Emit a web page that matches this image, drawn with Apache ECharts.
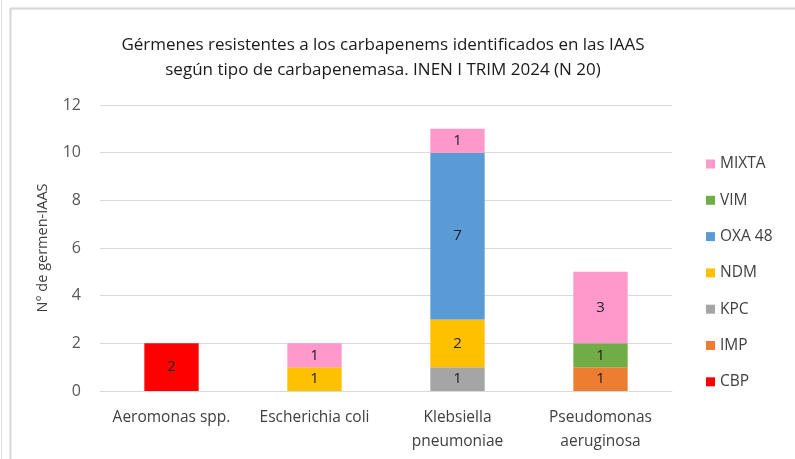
<!DOCTYPE html>
<html>
<head>
<meta charset="utf-8">
<script src="https://cdn.jsdelivr.net/npm/echarts@6/dist/echarts.min.js"></script>
<style>
  html, body { margin: 0; padding: 0; background: #fff; }
  #main { width: 795px; height: 459px; }
</style>
</head>
<body>
<div id="main"></div>
<script>
// categorias (germenes)
const categories = ['Aeromonas spp.', 'Escherichia coli', 'Klebsiella\npneumoniae', 'Pseudomonas\naeruginosa'];
// carbapenemasas, valores por germen (null = sin casos)
const cbp = [2, null, null, null];
const imp = [null, null, null, 1];
const kpc = [null, null, 1, null];
const ndm = [null, 1, 2, null];
const oxa48 = [null, null, 7, null];
const vim = [null, null, null, 1];
const mixta = [null, 1, 1, 3];
const yTicks = [0, 2, 4, 6, 8, 10, 12];

const seriesDef = [
  { name: 'CBP', data: cbp, color: '#FF0000' },
  { name: 'IMP', data: imp, color: '#ED7D31' },
  { name: 'KPC', data: kpc, color: '#A5A5A5' },
  { name: 'NDM', data: ndm, color: '#FFC000' },
  { name: 'OXA 48', data: oxa48, color: '#5B9BD5' },
  { name: 'VIM', data: vim, color: '#70AD47' },
  { name: 'MIXTA', data: mixta, color: '#FF99CC' }
];

const chart = echarts.init(document.getElementById('main'));
chart.setOption({
  backgroundColor: '#fff',
  animation: false,
  title: {
    text: 'Gérmenes resistentes a los carbapenems identificados en las IAAS\nsegún tipo de carbapenemasa. INEN I TRIM 2024 (N 20)',
    left: 378,
    textAlign: 'center',
    top: 28,
    textStyle: { fontFamily: 'Open Sans', fontSize: 17, fontWeight: 'normal', color: '#1a1a1a', lineHeight: 25 }
  },
  graphic: [
    { type: 'line', shape: { x1: 10.5, y1: 8, x2: 10.5, y2: 459 }, style: { stroke: '#d6d6d6', lineWidth: 2 } },
    { type: 'line', shape: { x1: 10, y1: 8.5, x2: 795, y2: 8.5 }, style: { stroke: '#d6d6d6', lineWidth: 2 } },
    { type: 'line', shape: { x1: 1.5, y1: 0, x2: 1.5, y2: 459 }, style: { stroke: '#dcdcdc', lineWidth: 1 } }
  ],
  legend: {
    orient: 'vertical',
    left: 701,
    top: 151,
    itemWidth: 9,
    itemHeight: 9,
    itemGap: 20.3,
    icon: 'rect',
    data: seriesDef.map(s => s.name).reverse(),
    textStyle: { fontFamily: 'Open Sans', fontSize: 15.5, lineHeight: 16, color: '#404040' }
  },
  grid: { left: 100, right: 123, top: 105, bottom: 68 },
  xAxis: {
    type: 'category',
    data: categories,
    axisLine: { lineStyle: { color: '#d9d9d9' } },
    axisTick: { show: false },
    axisLabel: { interval: 0, fontFamily: 'Open Sans', fontSize: 15.5, color: '#404040', margin: 15, lineHeight: 24 }
  },
  yAxis: {
    type: 'value',
    min: yTicks[0],
    max: yTicks[yTicks.length - 1],
    interval: 2,
    name: 'N° de germen-IAAS',
    nameLocation: 'middle',
    nameGap: 50,
    nameTextStyle: { fontFamily: 'Open Sans', fontSize: 14.5, color: '#404040' },
    axisLine: { show: false },
    axisTick: { show: false },
    splitLine: { lineStyle: { color: '#d9d9d9' } },
    axisLabel: { fontFamily: 'Open Sans', fontSize: 16, color: '#595959', margin: 19 }
  },
  series: seriesDef.map(s => ({
    name: s.name,
    type: 'bar',
    stack: 'total',
    barWidth: '38%',
    data: s.data,
    itemStyle: { color: s.color },
    label: {
      show: true,
      position: 'inside',
      fontFamily: 'Open Sans',
      fontSize: 15,
      color: '#222'
    }
  }))
});
</script>
</body>
</html>
